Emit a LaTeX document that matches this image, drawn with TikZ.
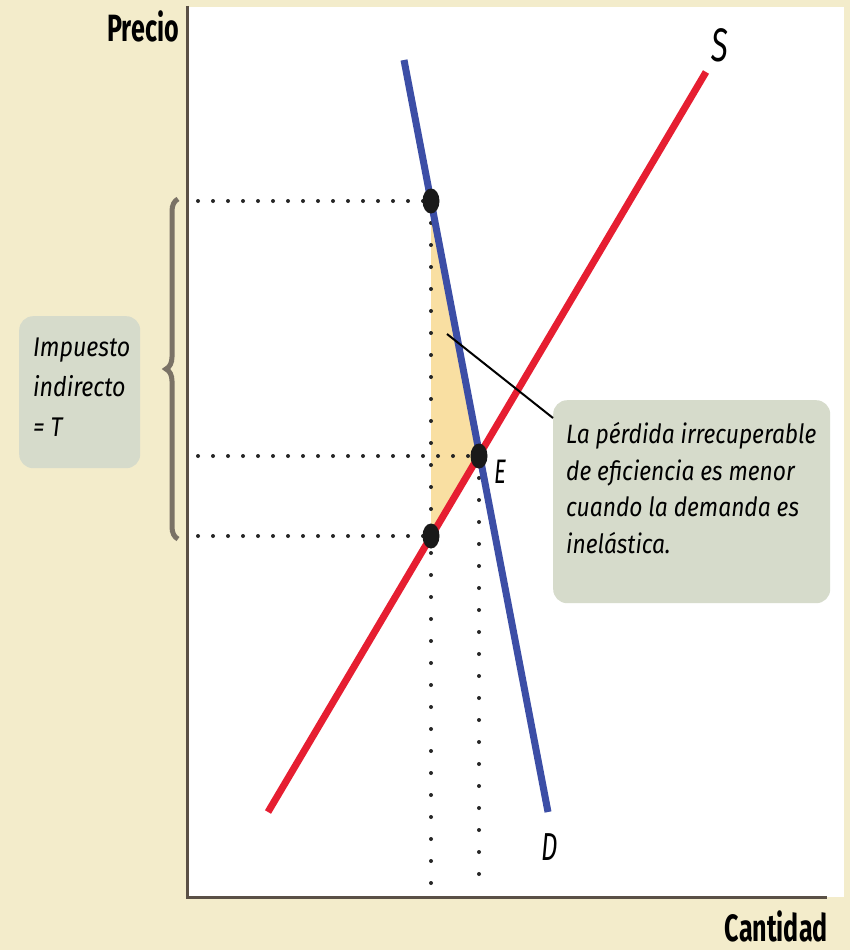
\documentclass[tikz,border=0pt]{standalone}
\usepackage{fontspec}
\newfontfamily\cf[FakeStretch=0.86]{Fira Sans}
\newfontfamily\cfb[FakeStretch=0.66]{Fira Sans}
\newfontfamily\cfn[FakeStretch=0.66]{Fira Sans}
\usetikzlibrary{decorations.pathreplacing,shapes.geometric}
\definecolor{bg}{HTML}{F3ECCB}
\definecolor{boxc}{HTML}{D6DBCB}
\definecolor{tri}{HTML}{F9DFA2}
\definecolor{sred}{HTML}{E61E31}
\definecolor{dblue}{HTML}{3C4EA6}
\definecolor{axisc}{HTML}{5A5046}
\definecolor{bracec}{HTML}{7A7266}
\tikzset{
  curve/.style={line width=7pt},
  hguide/.style={line width=4pt, line cap=round, dash pattern=on 0pt off 15pt, black!85},
  vguide/.style={line width=4pt, line cap=round, dash pattern=on 0pt off 22pt, black!85},
  pt/.style={ellipse, fill=black!90, minimum width=17pt, minimum height=25pt, inner sep=0pt},
  lbl/.style={inner sep=0pt, anchor=base},
  axlbl/.style={font=\cfb\bfseries\fontsize{38}{40}\selectfont, inner sep=0pt, anchor=base east},
  note/.style={rounded corners=14pt, fill=boxc, inner sep=0pt, anchor=north west},
  notetext/.style={inner sep=0pt, align=left, anchor=north west}
}
\begin{document}
\begin{tikzpicture}[x=1pt,y=-1pt]
\useasboundingbox (0,0) rectangle (850,950);
\fill[bg] (0,0) rectangle (850,950);
\fill[white] (187,7) rectangle (844,897);
% shaded triangle
\coordinate (Ptop) at (431,201);
\coordinate (PE) at (479,456);
\coordinate (Pbot) at (431,536);
\fill[tri] (Ptop) -- (PE) -- (Pbot) -- cycle;
% guides
\coordinate (Gy1) at (198,201);
\coordinate (Gy2) at (198,456);
\coordinate (Gy3) at (198,536);
\coordinate (Gx1) at (431,884);
\coordinate (Gx2) at (479,884);
\draw[hguide] (Gy1) -- (Ptop);
\draw[hguide] (Gy2) -- (PE);
\draw[hguide] (Gy3) -- (Pbot);
\draw[vguide] (Ptop) -- (Gx1);
\draw[vguide] (PE) -- (Gx2);
% curves
\coordinate (S1) at (268,812);
\coordinate (S2) at (706,72);
\coordinate (D1) at (404,60);
\coordinate (D2) at (548,812);
\draw[curve, sred] (S1) -- (S2);
\draw[curve, dblue] (D1) -- (D2);
\node[lbl, font=\cfn\itshape\fontsize{47}{48}\selectfont] (Slab) at (720,62) {S};
\node[lbl, font=\cfn\itshape\fontsize{39}{40}\selectfont] (Dlab) at (550,860) {D};
% points
\node[pt] (a) at (Ptop) {};
\node[pt] (e) at (PE) {};
\node[pt] (b) at (Pbot) {};
\node[lbl, font=\cfn\itshape\fontsize{34}{35}\selectfont, anchor=base west] (Elab) at (494,483) {E};
% axes
\coordinate (O) at (187,897);
\coordinate (Ytop) at (187,6);
\coordinate (Xend) at (827,897);
\draw[axisc, line width=3pt] (Ytop) -- (O) -- (Xend);
\node[axlbl] (prec) at (179,42) {Precio};
\node[axlbl] (cant) at (828,941) {Cantidad};
% brace
\draw[bracec, line width=5pt, decorate, decoration={brace, amplitude=12pt, aspect=0.5}] (178,539) -- (178,199);
% left note
\node[note, minimum width=121pt, minimum height=152pt] (tax) at (19,316) {};
\node[notetext, font=\cf\itshape\fontsize{27}{40}\selectfont] (taxt) at (33,338) {Impuesto\\indirecto\\= \textit{T}};
% right note
\node[note, minimum width=277pt, minimum height=203pt] (loss) at (553,400) {};
\node[notetext, font=\cf\itshape\fontsize{26.5}{36.7}\selectfont] (losst) at (566,422) {La pérdida irrecuperable\\de eficiencia es menor\\cuando la demanda es\\inelástica.};
\coordinate (pin) at (447,334);
\draw[black, line width=2pt] (pin) -- ([yshift=-18pt]loss.north west);
\end{tikzpicture}
\end{document}
